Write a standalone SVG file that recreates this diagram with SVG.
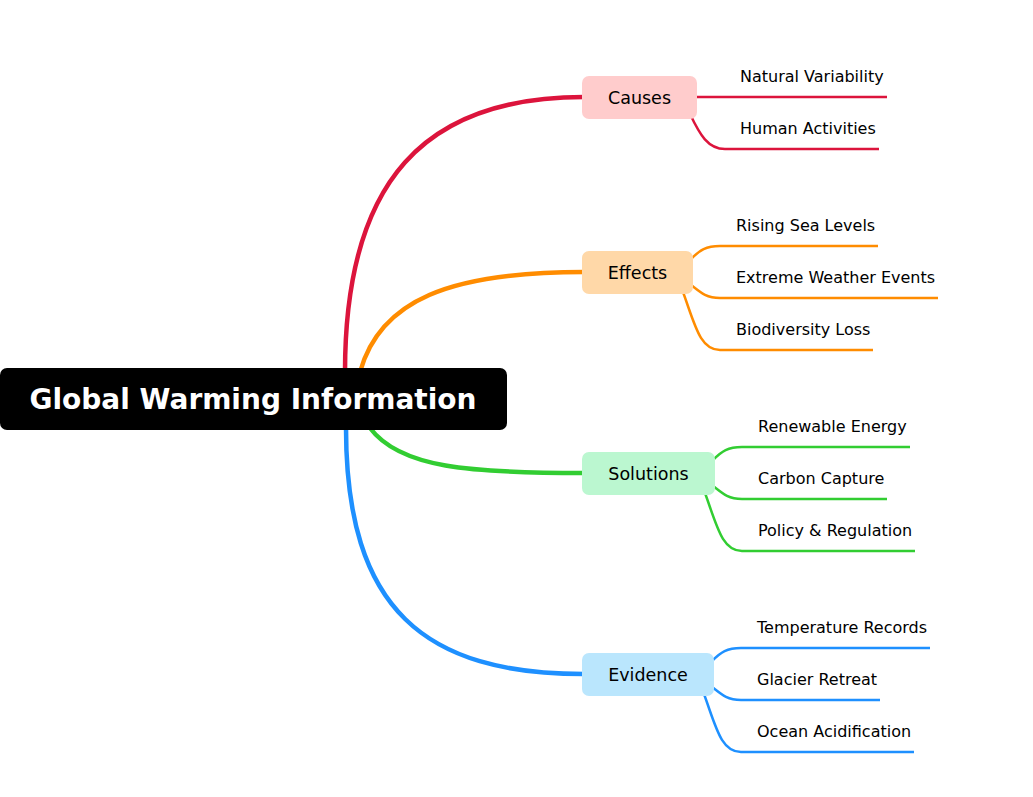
<svg xmlns="http://www.w3.org/2000/svg" width="1033" height="797" viewBox="0 0 1033 797">
<style>
text{font-family:"DejaVu Sans",sans-serif;fill:#000}
.m{fill:none;stroke-width:4.5;stroke-linecap:round}
.l{fill:none;stroke-width:2.5}
.lt{font-size:16px}
.nt{font-size:17.5px;text-anchor:middle}
</style>
<g id="connectors">
<path class="m" stroke="#dc143c" d="M345,372 C345,180 425,97 584,97"/>
<path class="m" stroke="#ff8c00" d="M360,372 C380,300 450,272 584,272"/>
<path class="m" stroke="#32cd32" d="M370,428 C400,468 470,473 584,473"/>
<path class="m" stroke="#1e90ff" d="M346,428 C346,610 425,674 584,674"/>
<g stroke="#dc143c" class="l"><path d="M695,97 H887"/><path d="M690,114 C700,135 708,149 725,149 H879"/></g>
<g stroke="#ff8c00" class="l"><path d="M691,259 C700,250 706,246 720,246 H878"/><path d="M691,285 C700,292 706,298 720,298 H938"/><path d="M683,292 C695,325 700,350 720,350 H873"/></g>
<g stroke="#32cd32" class="l"><path d="M713,460 C722,451 728,447 742,447 H910"/><path d="M713,486 C722,493 728,499 742,499 H887"/><path d="M705,493 C717,526 722,551 742,551 H915"/></g>
<g stroke="#1e90ff" class="l"><path d="M712,661 C721,652 727,648 741,648 H930"/><path d="M712,687 C721,694 727,700 741,700 H880"/><path d="M704,694 C716,727 721,752 741,752 H914"/></g>
</g>
<g id="root"><rect x="0" y="368" width="507" height="62" rx="7" fill="#000"/><text x="253" y="409" style="font-size:28px;font-weight:bold;fill:#fff;text-anchor:middle">Global Warming Information</text></g>
<g id="causes"><rect x="582" y="76" width="115" height="43" rx="7" fill="#ffcccc"/><text class="nt" x="639.5" y="104">Causes</text></g>
<g id="effects"><rect x="582" y="251" width="111" height="43" rx="7" fill="#ffd8a8"/><text class="nt" x="637.5" y="279">Effects</text></g>
<g id="solutions"><rect x="582" y="452" width="133" height="43" rx="7" fill="#bbf7d0"/><text class="nt" x="648.5" y="480">Solutions</text></g>
<g id="evidence"><rect x="582" y="653" width="132" height="43" rx="7" fill="#bae6fd"/><text class="nt" x="648" y="681">Evidence</text></g>
<g id="leaves">
<text class="lt" x="740" y="82">Natural Variability</text>
<text class="lt" x="740" y="134">Human Activities</text>
<text class="lt" x="736" y="231">Rising Sea Levels</text>
<text class="lt" x="736" y="283">Extreme Weather Events</text>
<text class="lt" x="736" y="335">Biodiversity Loss</text>
<text class="lt" x="758" y="432">Renewable Energy</text>
<text class="lt" x="758" y="484">Carbon Capture</text>
<text class="lt" x="758" y="536">Policy &amp; Regulation</text>
<text class="lt" x="757" y="633">Temperature Records</text>
<text class="lt" x="757" y="685">Glacier Retreat</text>
<text class="lt" x="757" y="737">Ocean Acidification</text>
</g>
</svg>
